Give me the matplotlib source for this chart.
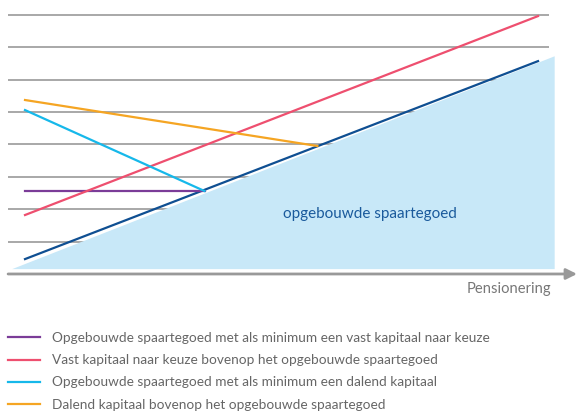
import matplotlib.pyplot as plt

plt.rcParams['font.family'] = ['Lato', 'DejaVu Sans']

# time axis (years) and capital values (arbitrary units, 10 per grid line)
t_start = 0
t_end = 20
t_switch = 7        # cyan and purple meet the savings line here
t_orange_end = 11.4

spaartegoed = [4.6, 65.7]           # dark blue line
vast_bovenop = [18.2, 79.6]         # pink
vast_minimum = [25.6, 25.6]         # purple
dalend_minimum = [50.6, 25.6]       # cyan
dalend_bovenop = [53.7, 39.5]       # orange

fill_t = [-0.5, 20.65, 20.65]
fill_v = [1.5, 67.2, 1.5]

grid_levels = [10, 20, 30, 40, 50, 60, 70, 80]

labels = [
    'Opgebouwde spaartegoed met als minimum een vast kapitaal naar keuze',
    'Vast kapitaal naar keuze bovenop het opgebouwde spaartegoed',
    'Opgebouwde spaartegoed met als minimum een dalend kapitaal',
    'Dalend kapitaal bovenop het opgebouwde spaartegoed',
]

fig = plt.figure(figsize=(5.77, 4.12), dpi=100)
ax = fig.add_axes([0, 0, 1, 1])
ax.set_xlim(-0.975, 21.52)
ax.set_ylim(-42.6, 84.57)
ax.axis('off')

ax.hlines(grid_levels, -0.66, 20.43, color='#999999', lw=1.2, zorder=1)
ax.fill(fill_t, fill_v, color='#c8e8f8', lw=0, zorder=2)

ax.annotate('', xy=(21.52, 0), xytext=(-0.66, 0),
            arrowprops=dict(arrowstyle='-|>', color='#999999', lw=2,
                            mutation_scale=16, shrinkA=0, shrinkB=0), zorder=3)

ax.plot([t_start, t_end], spaartegoed, color='#0f4f92', lw=1.6, zorder=4)
l_purple, = ax.plot([t_start, t_switch], vast_minimum, color='#7b3c98', lw=1.6, zorder=4)
l_pink, = ax.plot([t_start, t_end], vast_bovenop, color='#ee4f6f', lw=1.6, zorder=4)
l_cyan, = ax.plot([t_start, t_switch], dalend_minimum, color='#16b8ea', lw=1.6, zorder=4)
l_orange, = ax.plot([t_start, t_orange_end], dalend_bovenop, color='#f5a523', lw=1.6, zorder=4)

ax.text(13.45, 18.5, 'opgebouwde spaartegoed', color='#1a5a9c', fontsize=11,
        ha='center', va='center', zorder=5)
ax.text(20.5, -4.6, 'Pensionering', color='#777777', fontsize=10.6,
        ha='right', va='center')

fig.legend([l_purple, l_pink, l_cyan, l_orange], labels,
           loc='upper left', bbox_to_anchor=(8 / 577, 0.194), frameon=False,
           fontsize=9.8, handlelength=2.35, handletextpad=0.88,
           labelspacing=0.75, borderaxespad=0, borderpad=0,
           labelcolor='#666666')

fig.savefig('out.png', dpi=100)
